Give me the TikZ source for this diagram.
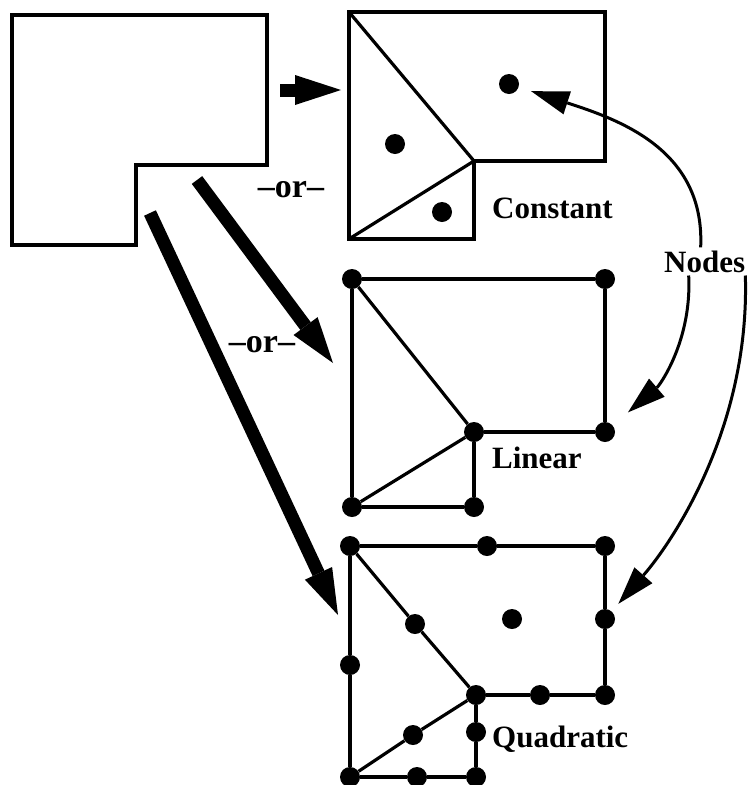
\documentclass[tikz,border=0pt]{standalone}
\usepackage{fontspec}
\setmainfont{Liberation Serif}
\usetikzlibrary{arrows.meta}

\begin{document}
\begin{tikzpicture}[x=1pt, y=-1pt,
    % --- Styles ---
    mesh line/.style={line width=3.2pt, line join=miter},
    % Filled nodes of the finite element meshes
    mesh dot/.style={circle, fill=black, inner sep=0pt, minimum size=20pt},
    label text/.style={font=\bfseries\fontsize{31}{31}\selectfont, anchor=base west, inner sep=0pt},
    or text/.style={font=\bfseries\fontsize{34}{34}\selectfont, anchor=base, inner sep=0pt},
    % Heavy arrows leaving the domain
    fat arrow/.style={line width=13pt, -{Triangle[length=46pt, width=30pt, line width=0pt]}},
    node arrow/.style={line width=3pt, -{Triangle[length=38pt, width=24pt, line width=0pt]}}
]

% fixes the margins
\useasboundingbox (0,0) rectangle (749,785);

%================DOMAIN================
\draw[mesh line] (12,15) -- (267,15) -- (267,165) -- (136,165)
    -- (136,245) -- (12,245) -- cycle;

%================CONSTANT================
\coordinate (c1) at (349,12);
\coordinate (c2) at (605,12);
\coordinate (c3) at (605,161);
\coordinate (c4) at (474,161);
\coordinate (c5) at (474,239);
\coordinate (c6) at (349,239);
\draw[mesh line] (c1) -- (c2) -- (c3) -- (c4) -- (c5) -- (c6) -- cycle;
\draw[mesh line] (c1) -- (c4) -- (c6);

\foreach \n/\x/\y in {cA/509/84, cB/395/144, cC/442/212}
    \node[mesh dot] (\n) at (\x,\y) {};

\node[label text] (lblConst) at (492,218) {Constant};

%================LINEAR================
\foreach \n/\x/\y in {l1/352/279, l2/605/279, l3/605/432,
                      l4/474/432, l5/474/507, l6/352/507}
    \node[mesh dot] (\n) at (\x,\y) {};

\draw[mesh line] (l1) -- (l2);
\draw[mesh line] (l2) -- (l3);
\draw[mesh line] (l3) -- (l4);
\draw[mesh line] (l4) -- (l5);
\draw[mesh line] (l5) -- (l6);
\draw[mesh line] (l6) -- (l1);
\draw[mesh line] (l1) -- (l4);
\draw[mesh line] (l6) -- (l4);

\node[label text] (lblLin) at (492,468) {Linear};

%================QUADRATIC================
% corners, then mid-side nodes, then the centre node
\foreach \n/\x/\y in {q1/350/546, q2/605/546, q3/605/695,
                      q4/476/695, q5/476/777, q6/350/777,
                      qT/487/546, qR/605/619, qB1/540/695, qV/476/732,
                      qB/417/777, qL/350/665, qD1/415/624, qD2/413/735,
                      qC/512/619}
    \node[mesh dot] (\n) at (\x,\y) {};

\draw[mesh line] (q1) -- (qT) -- (q2) -- (qR) -- (q3) -- (qB1) -- (q4);
\draw[mesh line] (q4) -- (qV) -- (q5) -- (qB) -- (q6) -- (qL) -- (q1);
\draw[mesh line] (q1) -- (qD1) -- (q4);
\draw[mesh line] (q6) -- (qD2) -- (q4);

\node[label text] (lblQuad) at (492,747) {Quadratic};

%================ARROWS================
\coordinate (fatA) at (280,90);
\coordinate (fatAend) at (341,90);
\coordinate (fatB) at (197,180);
\coordinate (fatBend) at (333,363);
\coordinate (fatC) at (150,213);
\coordinate (fatCend) at (338,615);

\draw[fat arrow] (fatA) -- (fatAend);
\draw[fat arrow] (fatB) -- (fatBend);
\draw[fat arrow] (fatC) -- (fatCend);

\node[or text] (orA) at (291,197) {--or--};
\node[or text] (orB) at (262,352) {--or--};

% --- Nodes label and its pointers ---
\node[label text, inner sep=3pt] (lblNodes) at (661,272) {Nodes};

\draw[node arrow, shorten >=13pt] ([xshift=-4pt]lblNodes.north)
    .. controls (705,150) and (620,120) .. (cA);
\draw[node arrow, shorten >=20pt] ([xshift=-16pt]lblNodes.south)
    .. controls (692,340) and (660,385) .. (l3);
\draw[node arrow, shorten >=10pt] ([xshift=-3pt]lblNodes.south east)
    .. controls (750,430) and (670,545) .. (qR);

\end{tikzpicture}
\end{document}
